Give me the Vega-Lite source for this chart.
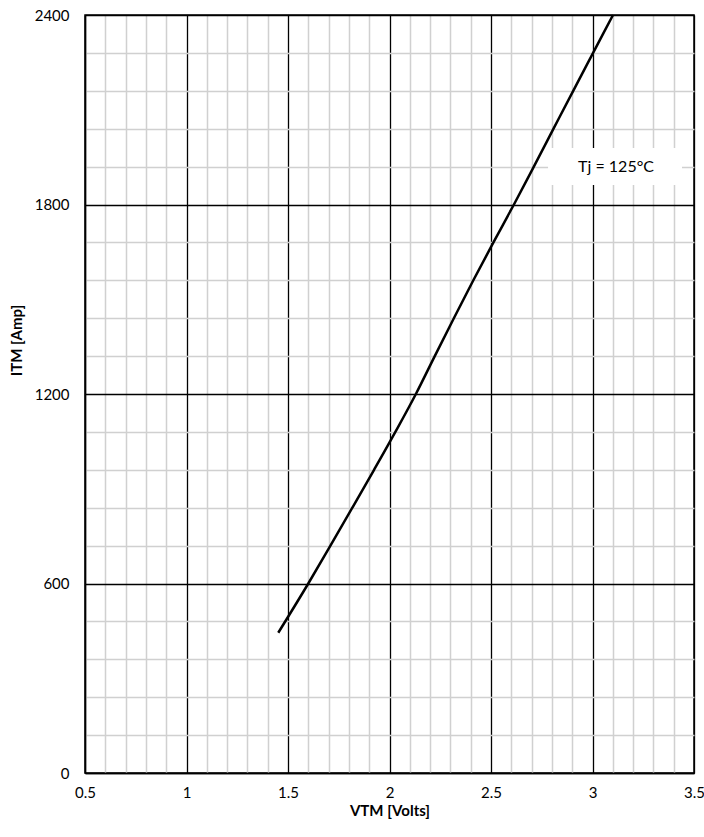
{
  "$schema": "https://vega.github.io/schema/vega-lite/v6.json",
  "width": 609,
  "height": 758,
  "autosize": "none",
  "padding": {"left": 85, "top": 15, "right": 10, "bottom": 64},
  "background": "white",
  "config": {"view": {"stroke": "black", "strokeWidth": 1.5}, "font": "Lato"},
  "datasets": {
    "curve": [
      {"V": 1.452, "I": 444},
      {"V": 1.600, "I": 600},
      {"V": 1.709, "I": 720},
      {"V": 1.817, "I": 840},
      {"V": 1.924, "I": 960},
      {"V": 2.029, "I": 1080},
      {"V": 2.130, "I": 1200},
      {"V": 2.223, "I": 1320},
      {"V": 2.317, "I": 1440},
      {"V": 2.413, "I": 1560},
      {"V": 2.512, "I": 1680},
      {"V": 2.613, "I": 1800},
      {"V": 2.711, "I": 1920},
      {"V": 2.808, "I": 2040},
      {"V": 2.905, "I": 2160},
      {"V": 3.003, "I": 2280},
      {"V": 3.101, "I": 2400}
    ],
    "label": [
      {"v1": 2.781, "v2": 3.441, "i1": 1862, "i2": 1979, "vt": 3.116, "it": 1918, "text": "Tj = 125°C"}
    ]
  },
  "layer": [
    {
      "data": {"name": "curve"},
      "mark": {"type": "line", "color": "black", "strokeWidth": 2.5, "interpolate": "monotone"},
      "encoding": {
        "x": {
          "field": "V", "type": "quantitative",
          "scale": {"domain": [0.5, 3.5], "nice": false, "zero": false},
          "axis": {
            "values": [0.5,0.6,0.7,0.8,0.9,1,1.1,1.2,1.3,1.4,1.5,1.6,1.7,1.8,1.9,2,2.1,2.2,2.3,2.4,2.5,2.6,2.7,2.8,2.9,3,3.1,3.2,3.3,3.4,3.5],
            "tickCount": 200,
            "title": "VTM [Volts]",
            "grid": true,
            "gridColor": {"condition": {"test": "abs(round(datum.value*10))%5==0", "value": "black"}, "value": "#d0d0d0"},
            "gridWidth": {"condition": {"test": "abs(round(datum.value*10))%5==0", "value": 1.3}, "value": 1.5},
            "labelExpr": "abs(round(datum.value*10))%5==0 ? ('' + datum.value) : ''",
            "ticks": false,
            "domainColor": "black",
            "domainWidth": 1.5,
            "labelFontSize": 15,
            "labelColor": "black",
            "labelPadding": 12,
            "labelFlush": false,
            "labelOverlap": false,
            "titleFontSize": 15,
            "titleFontWeight": "bold",
            "titleColor": "black",
            "titlePadding": 3
          }
        },
        "y": {
          "field": "I", "type": "quantitative",
          "scale": {"domain": [0, 2400], "nice": false},
          "axis": {
            "values": [0,120,240,360,480,600,720,840,960,1080,1200,1320,1440,1560,1680,1800,1920,2040,2160,2280,2400],
            "tickCount": 200,
            "title": "ITM  [Amp]",
            "grid": true,
            "gridColor": {"condition": {"test": "datum.value % 600 == 0", "value": "black"}, "value": "#d0d0d0"},
            "gridWidth": {"condition": {"test": "datum.value % 600 == 0", "value": 1.3}, "value": 1.5},
            "labelExpr": "datum.value % 600 == 0 ? ('' + datum.value) : ''",
            "ticks": false,
            "domainColor": "black",
            "domainWidth": 1.5,
            "labelFontSize": 15,
            "labelColor": "black",
            "labelPadding": 16,
            "labelFlush": false,
            "labelOverlap": false,
            "titleFontSize": 15,
            "titleFontWeight": "bold",
            "titleColor": "black",
            "titlePadding": 10,
            "titleY": 325
          }
        }
      }
    },
    {
      "data": {"name": "label"},
      "mark": {"type": "rect", "fill": "white"},
      "encoding": {
        "x": {"field": "v1", "type": "quantitative"},
        "x2": {"field": "v2"},
        "y": {"field": "i1", "type": "quantitative"},
        "y2": {"field": "i2"}
      }
    },
    {
      "data": {"name": "label"},
      "mark": {"type": "text", "fontSize": 16, "font": "Lato", "color": "black"},
      "encoding": {
        "x": {"field": "vt", "type": "quantitative"},
        "y": {"field": "it", "type": "quantitative"},
        "text": {"field": "text"}
      }
    }
  ]
}
